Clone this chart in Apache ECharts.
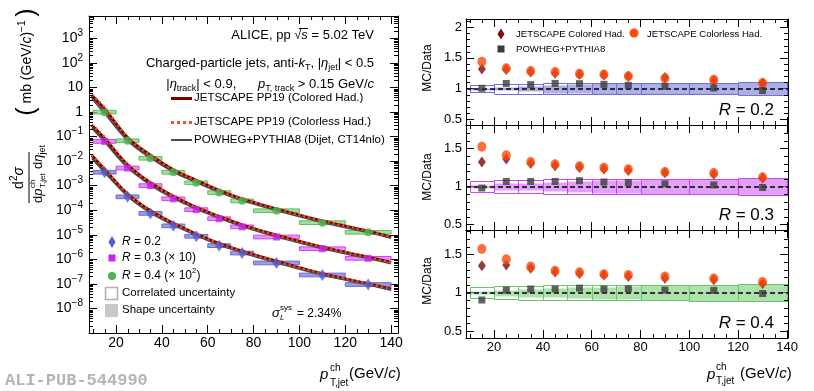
<!DOCTYPE html>
<html>
<head>
<meta charset="utf-8">
<script src="https://cdn.jsdelivr.net/npm/echarts@6/dist/echarts.min.js"></script>
<style>
html, body { margin: 0; padding: 0; background: #fff; }
#main { width: 814px; height: 391px; }
</style>
</head>
<body>
<div id="main"></div>
<script>
const FONT = '"Liberation Sans", Arial, Helvetica, sans-serif'

// jet pT bins (GeV/c)
const binLo = [10, 20, 30, 40, 50, 60, 70, 80, 100, 120]
const binHi = [20, 30, 40, 50, 60, 70, 80, 100, 120, 140]
const binMid = [15, 25, 35, 45, 55, 65, 75, 90, 110, 130]

// measured cross sections, mb (GeV/c)^-1  (R=0.3 is x10, R=0.4 is x100)
const dataR02 = [3.5e-3, 3.5e-4, 7.4e-5, 2.3e-5, 8.7e-6, 3.6e-6, 1.8e-6, 7.1e-7, 2.3e-7, 9.4e-8]
const dataR03 = [6.3e-2, 5.2e-3, 1.0e-3, 2.9e-4, 1.05e-4, 4.5e-5, 2.1e-5, 8.1e-6, 2.7e-6, 1.1e-6]
const dataR04 = [0.98, 6.7e-2, 1.3e-2, 3.5e-3, 1.3e-3, 5.2e-4, 2.4e-4, 9.5e-5, 3.1e-5, 1.26e-5]

// model curves
const curveX = [9.5, 15, 25, 35, 45, 55, 65, 75, 90, 110, 130, 140]
const powhegR02 = [1.3e-2, 3.52e-3, 3.8e-4, 7.88e-5, 2.5e-5, 9.4e-6, 3.85e-6, 1.9e-6, 7.38e-7, 2.32e-7, 9.17e-8, 5.6e-8]
const colorlessR02 = [1.8e-2, 5.0e-3, 4.66e-4, 9.5e-5, 2.92e-5, 1.08e-5, 4.43e-6, 2.18e-6, 8.3e-7, 2.63e-7, 1.03e-7, 6.3e-8]
const coloredR02 = [1.7e-2, 4.6e-3, 4.6e-4, 9.4e-5, 2.9e-5, 1.07e-5, 4.4e-6, 2.16e-6, 8.4e-7, 2.6e-7, 1.02e-7, 6.2e-8]
const powhegR03 = [0.22, 6.17e-2, 5.54e-3, 1.07e-3, 3.09e-4, 1.13e-4, 4.76e-5, 2.21e-5, 8.38e-6, 2.75e-6, 1.09e-6, 6.8e-7]
const colorlessR03 = [0.30, 9.58e-2, 7.33e-3, 1.32e-3, 3.74e-4, 1.33e-4, 5.6e-5, 2.57e-5, 9.64e-6, 3.17e-6, 1.23e-6, 7.6e-7]
const coloredR03 = [0.28, 8.32e-2, 7.07e-3, 1.3e-3, 3.68e-4, 1.31e-4, 5.54e-5, 2.54e-5, 9.56e-6, 3.13e-6, 1.22e-6, 7.5e-7]
const powhegR04 = [3.6, 0.887, 6.93e-2, 1.36e-2, 3.67e-3, 1.38e-3, 5.45e-4, 2.52e-4, 9.83e-5, 3.19e-5, 1.25e-5, 7.3e-6]
const colorlessR04 = [5.0, 1.54, 9.61e-2, 1.74e-2, 4.5e-3, 1.64e-3, 6.45e-4, 2.95e-4, 1.15e-4, 3.67e-5, 1.44e-5, 8.2e-6]
const coloredR04 = [4.7, 1.32, 9.11e-2, 1.72e-2, 4.45e-3, 1.63e-3, 6.4e-4, 2.9e-4, 1.13e-4, 3.63e-5, 1.41e-5, 8.0e-6]

// MC/Data ratios
const coloredRatioR02 = [1.32, 1.31, 1.27, 1.25, 1.23, 1.22, 1.2, 1.18, 1.13, 1.09]
const colorlessRatioR02 = [1.435, 1.33, 1.285, 1.27, 1.24, 1.23, 1.2, 1.17, 1.146, 1.09]
const powhegRatioR02 = [1.005, 1.085, 1.065, 1.085, 1.08, 1.07, 1.054, 1.037, 1.01, 0.97]
const coloredRatioR03 = [1.32, 1.36, 1.3, 1.27, 1.25, 1.23, 1.21, 1.18, 1.16, 1.11]
const colorlessRatioR03 = [1.52, 1.41, 1.32, 1.29, 1.265, 1.245, 1.225, 1.19, 1.175, 1.12]
const powhegRatioR03 = [0.98, 1.066, 1.066, 1.066, 1.075, 1.058, 1.053, 1.035, 1.02, 0.987]
const coloredRatioR04 = [1.35, 1.36, 1.32, 1.27, 1.25, 1.23, 1.21, 1.19, 1.17, 1.12]
const colorlessRatioR04 = [1.57, 1.435, 1.34, 1.285, 1.265, 1.24, 1.23, 1.21, 1.185, 1.14]
const powhegRatioR04 = [0.905, 1.035, 1.048, 1.048, 1.06, 1.048, 1.052, 1.035, 1.03, 0.99]

// half-heights of the data uncertainty boxes around 1
const corrR02 = [0.057, 0.079, 0.081, 0.089, 0.095, 0.095, 0.095, 0.095, 0.095, 0.105]
const shapeR02 = [0.015, 0.03, 0.045, 0.065, 0.075, 0.085, 0.085, 0.095, 0.095, 0.105]
const corrR03 = [0.07, 0.083, 0.087, 0.094, 0.094, 0.094, 0.094, 0.098, 0.1, 0.11]
const shapeR03 = [0.02, 0.04, 0.05, 0.065, 0.075, 0.08, 0.085, 0.098, 0.1, 0.11]
const corrR04 = [0.072, 0.085, 0.09, 0.095, 0.095, 0.095, 0.095, 0.1, 0.106, 0.11]
const shapeR04 = [0.02, 0.04, 0.05, 0.06, 0.07, 0.08, 0.085, 0.1, 0.106, 0.11]

const lg = (v) => Math.log10(v)

function richFor(size) {
	const sm = Math.round(size * 0.7)
	const L = size + 6
	return {
		i: { fontFamily: FONT, fontSize: size, fontStyle: "italic", fill: "#000", lineHeight: L },
		sub: { fontFamily: FONT, fontSize: sm, fill: "#000", lineHeight: sm, verticalAlign: "bottom" },
		sup: { fontFamily: FONT, fontSize: sm, fill: "#000", lineHeight: sm, verticalAlign: "top" },
		b: { fontFamily: FONT, fontSize: Math.round(size * 1.8), fill: "#000", lineHeight: L },
	}
}

function txt(x, y, text, size, align, extra) {
	return {
		type: "text", x, y, silent: true, z: 100,
		style: Object.assign({
			text, fontFamily: FONT, fontSize: size, fill: "#000",
			align: align || "left", verticalAlign: "middle",
			lineHeight: size + 6, rich: richFor(size),
		}, extra || {}),
	}
}

// minor ticks drawn through the axis scales of one grid
function minorTicks(xi, yi, xs, ys, anchor) {
	return {
		type: "custom", xAxisIndex: xi, yAxisIndex: yi, silent: true, z: 20,
		data: [anchor],
		renderItem(params, api) {
			const cs = params.coordSys
			const kids = []
			const st = { stroke: "#000", lineWidth: 1 }
			xs.forEach((v) => {
				const px = Math.round(api.coord([v, anchor[1]])[0]) + 0.5
				kids.push({ type: "line", shape: { x1: px, y1: cs.y + cs.height, x2: px, y2: cs.y + cs.height - 4 }, style: st })
				kids.push({ type: "line", shape: { x1: px, y1: cs.y, x2: px, y2: cs.y + 4 }, style: st })
			})
			ys.forEach((v) => {
				const py = Math.round(api.coord([anchor[0], v])[1]) + 0.5
				if (py < cs.y + 1 || py > cs.y + cs.height - 1) return
				kids.push({ type: "line", shape: { x1: cs.x, y1: py, x2: cs.x + 4, y2: py }, style: st })
				kids.push({ type: "line", shape: { x1: cs.x + cs.width, y1: py, x2: cs.x + cs.width - 4, y2: py }, style: st })
			})
			return { type: "group", children: kids }
		},
	}
}

const xMinor = []
for (let v = 10; v <= 140; v += 5) if (v % 20) xMinor.push(v)
const logMinor = []
for (let n = -9; n <= 3; n++) for (let k = 2; k <= 9; k++) logMinor.push(n + Math.log10(k))
function ratioMinor(max) {
	const out = []
	for (let t = 5; t / 10 <= max; t++) if (t % 5) out.push(t / 10)
	return out
}

const axisBase = {
	type: "value",
	splitLine: { show: false },
	axisLine: { show: true, onZero: false, lineStyle: { color: "#000", width: 1 } },
	axisTick: { show: true, inside: true, length: 8, lineStyle: { color: "#000", width: 1 } },
}

function xAxes(grid, min, max, labels, size) {
	return [
		Object.assign({}, axisBase, {
			gridIndex: grid, position: "bottom", min, max, splitNumber: 6,
			axisLabel: {
				show: labels, interval: 0, margin: 3, color: "#000", fontFamily: FONT, fontSize: size,
				formatter: (v) => (Math.abs(v % 20) < 1e-6 ? String(v) : ""),
			},
		}),
		Object.assign({}, axisBase, { gridIndex: grid, position: "top", min, max, splitNumber: 6, axisLabel: { show: false } }),
	]
}

function ratioYAxes(grid, min, max) {
	return [
		Object.assign({}, axisBase, {
			gridIndex: grid, position: "left", min, max, splitNumber: 3,
			axisLabel: {
				margin: 4, color: "#000", fontFamily: FONT, fontSize: 13,
				formatter: (v) => (Math.abs(v * 2 - Math.round(v * 2)) < 1e-6 ? String(v) : ""),
			},
		}),
		Object.assign({}, axisBase, { gridIndex: grid, position: "right", min, max, splitNumber: 3, axisLabel: { show: false } }),
	]
}

const leftY = [
	Object.assign({}, axisBase, {
		gridIndex: 0, position: "left", min: -9, max: 3.906, interval: 1,
		axisLabel: {
			margin: 6, color: "#000", fontFamily: FONT, fontSize: 14, lineHeight: 20,
			formatter: (v) => {
				if (Math.abs(v - Math.round(v)) > 1e-6 || v < -8.5) return ""
				const n = Math.round(v)
				if (n === 0) return "1"
				if (n === 1) return "10"
				return "10{s|" + (n < 0 ? "\u2212" + -n : n) + "}"
			},
			rich: { s: { fontFamily: FONT, fontSize: 10, color: "#000", lineHeight: 10, verticalAlign: "top" } },
		},
	}),
	Object.assign({}, axisBase, { gridIndex: 0, position: "right", min: -9, max: 3.906, interval: 1, axisLabel: { show: false } }),
]

function specBoxes(vals, fill, stroke) {
	return {
		type: "custom", xAxisIndex: 0, yAxisIndex: 0, z: 3, silent: true,
		data: vals.map((v, i) => [binLo[i], binHi[i], lg(v)]),
		renderItem(params, api) {
			const a = api.coord([api.value(0), api.value(2) + 0.075])
			const b = api.coord([api.value(1), api.value(2) - 0.075])
			return { type: "rect", shape: { x: a[0], y: a[1], width: b[0] - a[0], height: b[1] - a[1] }, style: { fill, stroke, lineWidth: 1 } }
		},
	}
}

function curve(vals, color, width, type, z) {
	return {
		type: "line", xAxisIndex: 0, yAxisIndex: 0, silent: true, z,
		data: curveX.map((x, i) => [x, lg(vals[i])]),
		smooth: 0.35, showSymbol: false, symbol: "none",
		lineStyle: { color, width, type },
	}
}

function specPoints(vals, symbol, size, color) {
	return {
		type: "scatter", xAxisIndex: 0, yAxisIndex: 0, silent: true, z: 6,
		symbol, symbolSize: size, itemStyle: { color },
		data: binMid.map((x, i) => [x, lg(vals[i])]),
	}
}

function ratioBoxes(ax, unc, fill, stroke, z) {
	return {
		type: "custom", xAxisIndex: ax, yAxisIndex: ax, z, silent: true,
		data: unc.map((u, i) => [binLo[i], binHi[i], u]),
		renderItem(params, api) {
			const a = api.coord([api.value(0), 1 + api.value(2)])
			const b = api.coord([api.value(1), 1 - api.value(2)])
			const x = Math.round(a[0]) + 0.5, y = Math.round(a[1]) + 0.5
			return {
				type: "rect",
				shape: { x, y, width: Math.round(b[0]) - Math.round(a[0]), height: Math.round(b[1]) - Math.round(a[1]) },
				style: { fill, stroke, lineWidth: 1 },
			}
		},
	}
}

function ratioPoints(ax, vals, symbol, size, color, z, extra) {
	return Object.assign({
		type: "scatter", xAxisIndex: ax, yAxisIndex: ax, silent: true, z,
		symbol, symbolSize: size, itemStyle: { color },
		data: binMid.map((x, i) => [x, vals[i]]),
	}, extra || {})
}

const panels = [
	{ min: 0.41, max: 2.13, corr: corrR02, shape: shapeR02, col: coloredRatioR02, cl: colorlessRatioR02, pw: powhegRatioR02,
		stroke: "#6f6fdc", fill: "rgba(120,120,215,0.6)" },
	{ min: 0.43, max: 1.805, corr: corrR03, shape: shapeR03, col: coloredRatioR03, cl: colorlessRatioR03, pw: powhegRatioR03,
		stroke: "#cc44f5", fill: "rgba(210,110,245,0.65)" },
	{ min: 0.41, max: 1.817, corr: corrR04, shape: shapeR04, col: coloredRatioR04, cl: colorlessRatioR04, pw: powhegRatioR04,
		stroke: "#66c866", fill: "rgba(120,205,120,0.6)" },
]

const grids = [
	{ left: 89, top: 16, width: 309, height: 317 },
	{ left: 466, top: 19, width: 322, height: 106 },
	{ left: 466, top: 125, width: 322, height: 105 },
	{ left: 466, top: 230, width: 322, height: 108 },
]

const xAxis = [].concat(
	xAxes(0, 8.2, 143, true, 14),
	xAxes(1, 8.5, 140.4, false, 13),
	xAxes(2, 8.5, 140.4, false, 13),
	xAxes(3, 8.5, 140.4, true, 13)
)
const yAxis = [].concat(
	leftY,
	ratioYAxes(1, panels[0].min, panels[0].max),
	ratioYAxes(2, panels[1].min, panels[1].max),
	ratioYAxes(3, panels[2].min, panels[2].max)
)

const series = [
	specBoxes(dataR02, "rgba(120,120,220,0.75)", "#6a6ad6"),
	specBoxes(dataR03, "rgba(220,110,250,0.75)", "#cc44ee"),
	specBoxes(dataR04, "rgba(130,210,130,0.75)", "#5cbf5c"),
	curve(coloredR02, "#7a0000", 3, "solid", 4),
	curve(coloredR03, "#7a0000", 3, "solid", 4),
	curve(coloredR04, "#7a0000", 3, "solid", 4),
	curve(powhegR02, "#4a4a4a", 2, "solid", 4),
	curve(powhegR03, "#4a4a4a", 2, "solid", 4),
	curve(powhegR04, "#4a4a4a", 2, "solid", 4),
	curve(colorlessR02, "#ff4d1a", 2.5, [2, 3], 5),
	curve(colorlessR03, "#ff4d1a", 2.5, [2, 3], 5),
	curve(colorlessR04, "#ff4d1a", 2.5, [2, 3], 5),
	specPoints(dataR02, "diamond", [8, 12], "#5a5acf"),
	specPoints(dataR03, "rect", 7, "#cc22ee"),
	specPoints(dataR04, "circle", 8, "#4fb34f"),
	minorTicks(0, 0, xMinor, logMinor, [50, 0]),
]

panels.forEach((p, gi) => {
	const ax = 2 + 2 * gi
	series.push(ratioBoxes(ax, p.shape, p.fill, null, 2))
	series.push(ratioBoxes(ax, p.corr, "none", p.stroke, 3))
	series.push(ratioPoints(ax, p.col, "diamond", [8, 11], "#7d0a0a", 6))
	series.push(ratioPoints(ax, p.cl, "circle", [9, 10], "#ff4a0a", 7))
	series.push(ratioPoints(ax, p.pw, "rect", 7, "#3b3b3b", 8, {
		markLine: {
			silent: true, symbol: "none", label: { show: false },
			lineStyle: { color: "#000", width: 1.5, type: [5, 3] },
			data: [{ yAxis: 1 }],
		},
	}))
	series.push(minorTicks(ax, ax, xMinor, ratioMinor(p.max), [50, 1]))
})

const graphic = [
	// left panel header
	txt(374, 35, "ALICE, pp \u221a{i|s} = 5.02 TeV", 13, "right"),
	{ type: "line", silent: true, z: 100, shape: { x1: 299, y1: 28.5, x2: 308, y2: 28.5 }, style: { stroke: "#000", lineWidth: 1 } },
	txt(374, 63, "Charged-particle jets, anti-{i|k}{sub|T}, |{i|\u03b7}{sub|jet}| < 0.5", 13, "right"),
	txt(374, 84, "|{i|\u03b7}{sub|track}| < 0.9,      {i|p}{sub|T, track} > 0.15 GeV/{i|c}", 13, "right"),
	// model legend
	{ type: "line", silent: true, z: 100, shape: { x1: 171, y1: 98.5, x2: 192, y2: 98.5 }, style: { stroke: "#7a0000", lineWidth: 3 } },
	{ type: "line", silent: true, z: 100, shape: { x1: 171, y1: 122.5, x2: 192, y2: 122.5 }, style: { stroke: "#ff4d1a", lineWidth: 3, lineDash: [3, 3] } },
	{ type: "line", silent: true, z: 100, shape: { x1: 171, y1: 140, x2: 192, y2: 140 }, style: { stroke: "#4a4a4a", lineWidth: 2 } },
	txt(194, 98, "JETSCAPE PP19 (Colored Had.)", 11.5),
	txt(194, 122, "JETSCAPE PP19 (Colorless Had.)", 11.5),
	txt(194, 140, "POWHEG+PYTHIA8 (Dijet, CT14nlo)", 11.5),
	// data legend
	{ type: "polygon", silent: true, z: 100, shape: { points: [[112, 236], [115.5, 242], [112, 248], [108.5, 242]] }, style: { fill: "#5a5acf" } },
	{ type: "rect", silent: true, z: 100, shape: { x: 108.5, y: 254.5, width: 7, height: 7 }, style: { fill: "#cc22ee" } },
	{ type: "circle", silent: true, z: 100, shape: { cx: 112, cy: 276, r: 4 }, style: { fill: "#4fb34f" } },
	txt(122, 242, "{i|R} = 0.2", 12),
	txt(122, 258, "{i|R} = 0.3 (\u00d7 10)", 12),
	txt(122, 276, "{i|R} = 0.4 (\u00d7 10{sup|2})", 12),
	{ type: "rect", silent: true, z: 100, shape: { x: 105.5, y: 287.5, width: 12, height: 12 }, style: { fill: "none", stroke: "#b0b0b0", lineWidth: 1.5 } },
	{ type: "rect", silent: true, z: 100, shape: { x: 105, y: 304, width: 13, height: 13 }, style: { fill: "#c8c8c8" } },
	txt(122, 293, "Correlated uncertainty", 11.5),
	txt(122, 310, "Shape uncertainty", 11.5),
	txt(272, 313, "{i|\u03c3}", 13),
	txt(280, 308, "sys", 8),
	txt(280, 318, "{i|L}", 8),
	txt(297, 314, "= 2.34%", 12),
	// x titles
	txt(320, 375, "{i|p}", 15),
	txt(330, 368, "ch", 10),
	txt(330, 383, "T,jet", 10),
	txt(349, 374, "(GeV/{i|c})", 15),
	txt(707, 375, "{i|p}", 15),
	txt(716, 367, "ch", 10),
	txt(716, 381, "T,jet", 10),
	txt(740, 374, "(GeV/{i|c})", 15),
	// left y title
	{
		type: "group", x: 28, y: 205, rotation: Math.PI / 2,
		children: [
			{ type: "line", silent: true, z: 100, shape: { x1: 2, y1: 1, x2: 53, y2: 1 }, style: { stroke: "#000", lineWidth: 1 } },
			txt(27, -9, "d{sup|2}{i|\u03c3}", 14, "center"),
			txt(2, 10, "d{i|p}", 13),
			txt(17, 5, "ch", 8),
			txt(17, 15, "T,jet", 8),
			txt(36, 10, "d{i|\u03b7}{sub|jet}", 13),
			txt(143, -1, "{b|(} mb (GeV/{i|c}){sup|\u22121} {b|)}", 14, "center"),
		],
	},
	// right panels
	{ type: "polygon", silent: true, z: 100, shape: { points: [[501, 28.5], [504.5, 34], [501, 39.5], [497.5, 34]] }, style: { fill: "#7d0a0a" } },
	{ type: "circle", silent: true, z: 100, shape: { cx: 634, cy: 33, r: 4.5 }, style: { fill: "#ff4a0a" } },
	{ type: "rect", silent: true, z: 100, shape: { x: 497.5, y: 45.5, width: 7, height: 7 }, style: { fill: "#3b3b3b" } },
	txt(516, 34, "JETSCAPE Colored Had.", 9.6),
	txt(647, 34, "JETSCAPE Colorless Had.", 9.6),
	txt(516, 49, "POWHEG+PYTHIA8", 9.6),
	txt(774, 110, "{i|R} = 0.2", 17, "right"),
	txt(774, 215, "{i|R} = 0.3", 17, "right"),
	txt(774, 323, "{i|R} = 0.4", 17, "right"),
	Object.assign(txt(428, 68, "MC/Data", 12, "center"), { rotation: Math.PI / 2 }),
	Object.assign(txt(428, 177, "MC/Data", 12, "center"), { rotation: Math.PI / 2 }),
	Object.assign(txt(428, 281, "MC/Data", 12, "center"), { rotation: Math.PI / 2 }),
	// watermark
	txt(5, 381, "ALI-PUB-544990", 17, "left", {
		fontFamily: '"Liberation Mono", "DejaVu Sans Mono", monospace', fontWeight: "bold", fill: "#b4b4b4",
	}),
]

const chart = echarts.init(document.getElementById("main"), null, { renderer: "canvas" })
chart.setOption({
	animation: false,
	backgroundColor: "#fff",
	grid: grids,
	xAxis,
	yAxis,
	series,
	graphic,
})
</script>
</body>
</html>
